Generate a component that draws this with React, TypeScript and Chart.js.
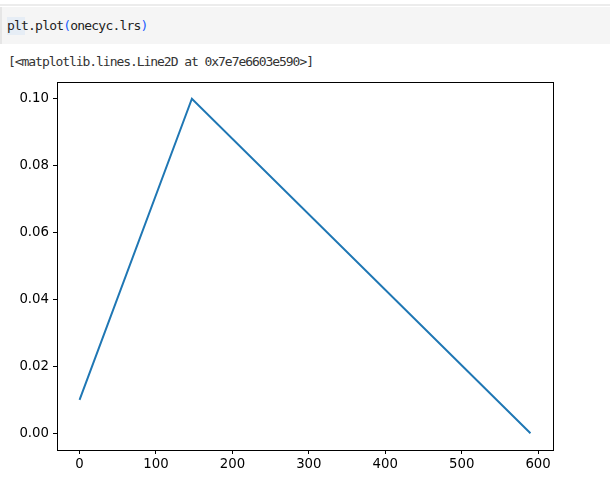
import { useEffect, useRef } from 'react';
import { Chart, registerables } from 'chart.js';

Chart.register(...registerables);

// ---- data ----
const stepIndex = [0, 147, 590];
const learningRates = [0.01, 0.1, 0.00001];
const xTickValues = [0, 100, 200, 300, 400, 500, 600];
const yTickValues = [0, 0.02, 0.04, 0.06, 0.08, 0.1];
const codeBefore = 'plt.plot';
const codeInside = 'onecyc.lrs';
const outputText = '[<matplotlib.lines.Line2D at 0x7e7e6603e590>]';

// matplotlib-style 5% auto margins
const xSpan = Math.max(...stepIndex) - Math.min(...stepIndex);
const ySpan = Math.max(...learningRates) - Math.min(...learningRates);
const xMin = Math.min(...stepIndex) - 0.05 * xSpan;
const xMax = Math.max(...stepIndex) + 0.05 * xSpan;
const yMin = Math.min(...learningRates) - 0.05 * ySpan;
const yMax = Math.max(...learningRates) + 0.05 * ySpan;

const framePlugin = {
  id: 'frame',
  afterDraw(chart: any) {
    const { ctx, chartArea } = chart;
    const { left, top, right, bottom } = chartArea;
    ctx.save();
    ctx.strokeStyle = '#000';
    ctx.lineWidth = 1;
    ctx.strokeRect(Math.round(left) + 0.5, Math.round(top) + 0.5, Math.round(right - left), Math.round(bottom - top));
    ctx.restore();
  },
};

const monoFont = '"DejaVu Sans Mono", "Liberation Mono", monospace';

export default function App() {
  const canvasRef = useRef<HTMLCanvasElement | null>(null);

  useEffect(() => {
    document.body.style.margin = '0';
    const canvas = canvasRef.current;
    if (!canvas) return;
    const points = stepIndex.map((x, i) => ({ x, y: learningRates[i] }));
    const tickFont = { family: '"DejaVu Sans", sans-serif', size: 13.3 };
    const chart = new Chart(canvas, {
      type: 'line',
      data: {
        datasets: [
          {
            data: points,
            borderColor: '#1f77b4',
            borderWidth: 2,
            pointRadius: 0,
            tension: 0,
            fill: false,
          },
        ],
      },
      options: {
        animation: false,
        responsive: false,
        devicePixelRatio: 1,
        layout: { padding: { left: 0, top: 11, right: 57, bottom: 0 } },
        plugins: { legend: { display: false }, tooltip: { enabled: false } },
        scales: {
          x: {
            type: 'linear',
            min: xMin,
            max: xMax,
            border: { display: false },
            grid: { drawOnChartArea: false, drawTicks: true, tickLength: 4, color: '#000', lineWidth: 1 },
            ticks: {
              font: tickFont,
              color: '#000',
              padding: 3,
              maxRotation: 0,
              autoSkip: false,
              callback: (v: any) => String(Math.round(Number(v))),
            },
            afterBuildTicks: (scale: any) => {
              scale.ticks = xTickValues.map((v) => ({ value: v }));
            },
            afterFit: (scale: any) => {
              scale.height = 37;
            },
          },
          y: {
            type: 'linear',
            min: yMin,
            max: yMax,
            border: { display: false },
            grid: { drawOnChartArea: false, drawTicks: true, tickLength: 4, color: '#000', lineWidth: 1 },
            ticks: {
              font: tickFont,
              color: '#000',
              padding: 4,
              callback: (v: any) => Number(v).toFixed(2),
            },
            afterBuildTicks: (scale: any) => {
              scale.ticks = yTickValues.map((v) => ({ value: v }));
            },
            afterFit: (scale: any) => {
              scale.width = 57;
            },
          },
        },
      },
      plugins: [framePlugin],
    });
    return () => chart.destroy();
  }, []);

  return (
    <div style={{ position: 'relative', width: 610, height: 487, background: '#fff', overflow: 'hidden' }}>
      <div style={{ position: 'absolute', left: 0, top: 4, width: 610, height: 2, background: '#ececec' }} />
      <div style={{ position: 'absolute', left: 0, top: 7, width: 610, height: 37, background: '#f5f5f5' }} />
      <div style={{ position: 'absolute', left: 0, top: 7, width: 2, height: 37, background: '#e6e6e6' }} />
      <div style={{ position: 'absolute', left: 7, top: 17, width: 18, height: 18, background: '#e6edf5' }} />
      <div
        style={{
          position: 'absolute',
          left: 7,
          top: 16,
          fontFamily: monoFont,
          fontSize: 13,
          letterSpacing: '-0.8px',
          lineHeight: '19px',
          color: '#222',
          whiteSpace: 'pre',
        }}
      >
        {codeBefore}
        <span style={{ color: '#1a5cff' }}>(</span>
        {codeInside}
        <span style={{ color: '#1a5cff' }}>)</span>
      </div>
      <div
        style={{
          position: 'absolute',
          left: 8,
          top: 52,
          fontFamily: monoFont,
          fontSize: 13,
          letterSpacing: '-1.05px',
          lineHeight: '19px',
          color: '#333',
          whiteSpace: 'pre',
        }}
      >
        {outputText}
      </div>
      <canvas
        ref={canvasRef}
        width={610}
        height={417}
        style={{ position: 'absolute', left: 0, top: 70, width: 610, height: 417 }}
      />
    </div>
  );
}
